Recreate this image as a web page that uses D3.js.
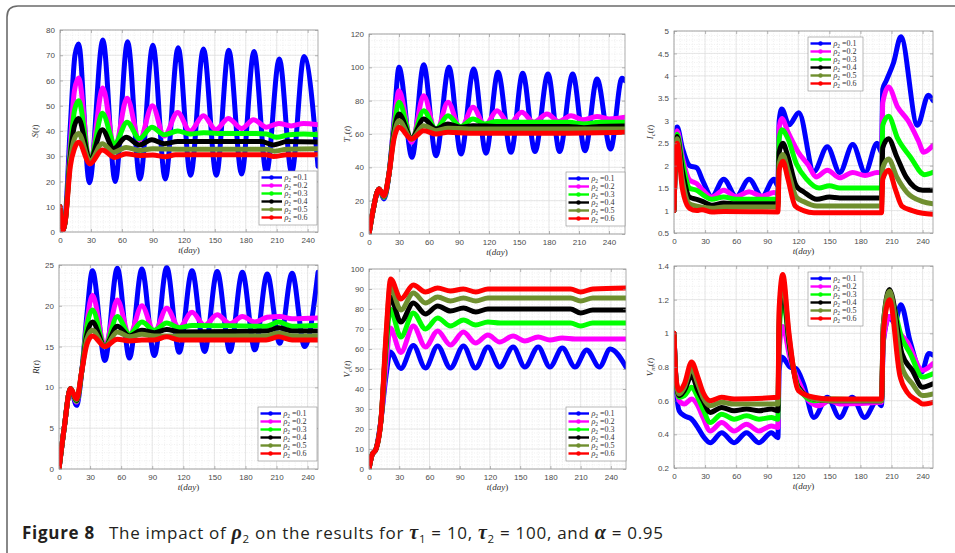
<!DOCTYPE html>
<html>
<head>
<meta charset="utf-8">
<script src="https://cdn.jsdelivr.net/npm/d3@7"></script>
<style>
  body { margin: 0; background: #fff; }
  svg { display: block; }
</style>
</head>
<body>
<script>
const rhoLabels = ['0.1', '0.2', '0.3', '0.4', '0.5', '0.6']
const colors = ['#0000ff', '#ff00ff', '#00ff00', '#000000', '#6f8f2f', '#ff0000']
const xTicks = [0, 30, 60, 90, 120, 150, 180, 210, 240]

// S(t), one list of [t, value] per rho2
const sData = [
  [[0,10],[2.5,0.5],[5,5],[10,42],[14.5,70],[18,74.5],[28.5,19.5],[41.5,76],[53.5,20],[65.5,75.3],[77.5,21],[90,74],[102,21],[114.5,73],[126.5,22.5],[139,72.5],[151.5,22.5],[163.5,72],[176,23],[188,71.5],[200,23.5],[212.5,68.5],[224.5,23.5],[236.5,69.5],[250,26]],
  [[0,10],[2.5,0.5],[5,4],[10,35],[14,56],[18,61],[29,27],[41.5,57],[53,33],[65,53],[77,36.5],[89.5,50],[101,38],[114,47.3],[126,40],[139,46],[151,40.5],[163,45],[176,41],[187.5,44.5],[200,41.5],[212,43],[224,42],[236,43],[250,42.5]],
  [[0,10],[2.5,0.5],[5,4],[10,32],[14,48],[18,52],[29,28],[41,47],[53,35],[65,43.5],[77,37],[89,41.5],[101,38.5],[114,40],[126,38.8],[139,39.3],[160,39],[190,39],[200,38.8],[210,37.5],[222,38.5],[236,38.8],[250,38.5]],
  [[0,10],[2.5,0.5],[5,4],[10,30],[14,42],[18,45],[29,28.5],[41,40.5],[52,33],[64,37.5],[77,34.5],[89,36.5],[101,35],[114,35.8],[150,35.8],[195,35.8],[207,34.5],[220,35.8],[250,35.6]],
  [[0,10],[2.5,0.5],[5,4],[10,28],[14,37],[18,39],[29,28],[41,35],[52,31.5],[64,33.5],[77,32.3],[90,33],[120,32.8],[200,32.8],[208,32],[220,32.8],[250,33]],
  [[0,10],[2.5,0.5],[5,4],[10,26],[14,33],[18,35.5],[29,27],[41,32.5],[53,29.5],[64,31],[77,30.3],[90,30.5],[102,29.8],[112,30.6],[200,30.6],[207,29.9],[220,30.6],[250,30.6]]
]

// Tc(t)
const tcData = [
  [[0,0],[4,14],[10,27],[15,21],[20,36],[25,68],[30,100],[43,46],[54.7,101.5],[67,47],[80,100],[92,48],[104.7,99],[117,48.5],[129,97],[142,49],[153.7,96.5],[166,49.5],[179,96],[190.6,49.5],[203.7,96],[216,50],[228,93],[241.6,51],[253,93.5],[256,92]],
  [[0,0],[4,14],[10,27],[15,22],[20,36],[25,65],[30,86],[42.6,55],[54.7,83],[67,61],[79,79],[91.5,63],[104,76],[116,65],[128,74],[140.5,66],[152.7,73],[165,67],[178,72],[190,67.5],[202,71],[214,68.5],[228,70.5],[240,69],[256,70]],
  [[0,0],[4,14],[10,27],[15,22],[20,36],[25,63],[30,79],[42.6,57],[54.7,74],[67,63],[79,71],[91.5,64.5],[104,69],[116,66],[128,67.5],[150,67],[200,67],[215,66],[230,67],[256,67]],
  [[0,0],[4,14],[10,27],[15,22.5],[20,36],[25,61],[30,72],[42.6,57.5],[54.7,69],[67,63],[79,66],[91.5,64],[104,65],[130,64.5],[200,64.5],[215,63.8],[230,64.5],[256,64.8]],
  [[0,0],[4,14],[10,27],[15,22.5],[20,36],[25,59],[30,68],[42.6,57],[54.7,65],[67,62],[79,63.5],[100,63],[200,63],[256,63]],
  [[0,0],[4,14],[10,27],[15,23],[20,36],[25,57],[30,64],[42.6,57],[54.7,62],[67,60],[79,61],[100,60.5],[200,60.5],[256,61]]
]

// Ic(t)
const icData = [
  [[0,1],[1,1.9],[2,2.5],[3,2.86],[8,2.4],[15,2.0],[22,1.95],[28,1.65],[36.5,1.31],[48,1.7],[60,1.31],[72.5,1.7],[85,1.31],[96.5,1.7],[100.3,1.55],[101.5,3.0],[104,3.26],[111,2.91],[120.5,3.18],[135,1.87],[148,2.42],[160,1.85],[172.5,2.47],[184.5,1.85],[196,2.5],[200.3,2.3],[201.5,3.7],[205,3.9],[212,4.3],[219,4.87],[235,2.9],[245.5,3.57],[250,3.45]],
  [[0,1],[1,1.9],[2,2.45],[3,2.78],[8,2.2],[15,1.68],[22,1.6],[28,1.45],[36.5,1.3],[48,1.45],[60,1.31],[72.5,1.42],[85,1.32],[96.5,1.4],[100.3,1.38],[101.5,2.85],[104,3.05],[110,2.75],[120,2.3],[130,2.0],[137,1.75],[148,1.9],[160,1.73],[172.5,1.85],[184.5,1.78],[196,1.85],[200.3,1.84],[201.5,3.4],[207,3.75],[216,3.3],[226,3.0],[236,2.55],[241,2.3],[250,2.45]],
  [[0,1],[1,1.9],[2,2.4],[3,2.7],[8,2.1],[15,1.5],[22,1.45],[28,1.35],[36.5,1.25],[48,1.3],[60,1.25],[100.3,1.25],[101.5,2.6],[104,2.8],[110,2.6],[118,2.05],[128,1.7],[140,1.5],[150,1.55],[160,1.5],[200.3,1.5],[201.5,2.9],[207,3.1],[216,2.6],[228,2.2],[242,1.8],[250,1.85]],
  [[0,1],[1,1.9],[2,2.35],[3,2.65],[8,1.9],[15,1.3],[22,1.25],[28,1.2],[36.5,1.12],[48,1.17],[60,1.15],[100.3,1.15],[101.5,2.3],[105,2.5],[110,2.2],[118,1.55],[125,1.42],[138,1.25],[150,1.3],[160,1.28],[200.3,1.28],[201.5,2.4],[207,2.6],[215,2.2],[224,1.75],[240,1.45],[250,1.45]],
  [[0,1],[1,1.85],[2,2.3],[3,2.6],[8,1.7],[15,1.15],[22,1.1],[36.5,1.05],[48,1.08],[100.3,1.08],[101.5,2.05],[105,2.25],[110,1.9],[118,1.3],[125,1.2],[138,1.1],[200.3,1.1],[201.5,1.95],[207,2.15],[215,1.75],[225,1.4],[240,1.2],[250,1.15]],
  [[0,1],[1,1.85],[2,2.25],[3,2.5],[8,1.5],[15,1.05],[22,1.0],[27,1.02],[36.5,0.97],[48,0.98],[100.3,0.97],[101.5,1.9],[105,2.1],[110,1.7],[117,1.1],[125,1.0],[135,0.95],[200.3,0.95],[201.5,1.7],[207,1.9],[214,1.45],[220,1.1],[230,1.0],[240,0.94],[250,0.92]]
]

// R(t)
const rData = [
  [[0,0],[5,5],[11,9.85],[17,7.8],[22,12],[27,19],[32.3,24.3],[44.3,13.3],[56.3,24.6],[68,13.6],[80,24.5],[92,13.9],[104,24.7],[116,14.3],[128.4,24.3],[140.5,14.4],[152.7,24.2],[165,14.4],[177,24.1],[189,14.6],[201,23.9],[213,15.4],[225,24],[237,15],[250,24.1]],
  [[0,0],[5,5],[11,9.85],[17,8.2],[22,12],[27,18],[32.3,21.3],[44.3,15],[56.3,20.7],[68,16.4],[80,20],[92,16.8],[104,19.7],[116,17.3],[128.4,19.2],[140.5,17.6],[152.7,18.9],[165,17.8],[177,18.7],[189,18],[201,18.6],[213,18.7],[225,18.4],[250,18.5]],
  [[0,0],[5,5],[11,9.85],[17,8.3],[22,12],[27,17.5],[32.3,19.5],[44.3,15],[56.3,18.7],[68,16.5],[80,18],[92,17],[104,17.9],[116,17.3],[128.4,17.6],[200,17.5],[212,18],[225,17.5],[250,17.6]],
  [[0,0],[5,5],[11,9.85],[17,8.4],[22,12],[27,16.5],[32.3,18],[44.3,15],[56.3,17.5],[68,16.3],[80,17],[92,16.7],[104,17.1],[116,16.8],[200,16.9],[212,17.3],[225,16.9],[250,16.9]],
  [[0,0],[5,5],[11,9.85],[17,8.5],[22,12],[27,16],[32.3,17],[44.3,15],[56.3,16.8],[68,16.2],[80,16.5],[92,16.3],[200,16.3],[212,16.7],[225,16.3],[250,16.3]],
  [[0,0],[5,5],[11,9.85],[17,8.6],[22,12],[27,15.3],[32.3,16.3],[44.3,15],[56.3,15.9],[68,15.7],[80,15.8],[92,15.8],[104,16.2],[116,15.8],[200,15.8],[212,16.2],[225,15.8],[250,15.8]]
]

// Vc(t)
const vcData = [
  [[0,0],[3,7],[7,10],[12,25],[17,47],[21,58.5],[31.6,50.3],[44,61.7],[56,50.5],[68.1,61.5],[80.8,50.5],[93.7,61.5],[105.7,50.5],[118,61],[129.6,51],[143,61],[154.6,51],[167.9,61],[179.5,51],[191.8,60.5],[204.4,51],[216,59.5],[228.7,51],[239.3,60],[255,51]],
  [[0,0],[3,7],[7,10],[12,25],[17,52],[21,70.5],[31.6,58.3],[44,71.5],[56,61],[68.1,69],[80.8,62],[93.7,68.5],[105.7,63],[118,67],[129.6,63.5],[143,66.5],[154.6,64],[167.9,66],[179.5,64.5],[191.8,65.5],[204.4,65],[255,65]],
  [[0,0],[3,7],[7,10],[12,25],[17,60],[21,80],[31.6,66],[44,78],[56,70],[68.1,75.5],[80.8,71.5],[93.7,74.5],[105.7,72],[118,73.5],[130,73],[200,73],[210,71.5],[222,73],[255,73]],
  [[0,0],[3,7],[7,10],[12,25],[17,64],[21,86],[31.6,73.5],[44,83],[56,77.5],[68.1,81.5],[80.8,79],[93.7,80.5],[106,78.5],[118,80],[200,80],[210,78],[222,79.5],[255,79.5]],
  [[0,0],[3,7],[7,10],[12,25],[17,66],[21,91],[31.6,79.5],[44,88],[56,83],[68.1,86],[80.8,84],[93.7,85.5],[106,84],[118,85.5],[200,85.5],[210,84],[222,85.5],[255,85.5]],
  [[0,0],[3,7],[7,10],[12,25],[17,68],[21.5,95],[31.6,85],[44,92],[56,88.5],[68.1,90.5],[80.8,89],[93.7,90],[106,88.5],[118,90],[200,90],[210,88.5],[222,90],[255,90.5]]
]

// Vm(t)
const vmData = [
  [[0,1],[2,0.7],[5,0.54],[10,0.51],[17,0.49],[23,0.44],[28,0.39],[35,0.35],[46,0.41],[58,0.35],[70,0.41],[82,0.35],[94,0.41],[100.3,0.38],[101.5,0.78],[104,0.86],[112,0.8],[118,0.79],[125,0.7],[135,0.5],[148,0.62],[160,0.5],[172,0.62],[184,0.5],[196,0.6],[200.3,0.57],[202,0.95],[208,1.1],[213,1.06],[219,1.17],[228,0.95],[239,0.77],[246,0.88],[250,0.87]],
  [[0,1],[2,0.72],[5,0.6],[10,0.58],[17,0.61],[23,0.57],[28,0.5],[35,0.42],[46,0.47],[58,0.42],[70,0.46],[82,0.42],[94,0.45],[100.3,0.44],[101.5,0.9],[105,1.04],[112,0.85],[120,0.72],[130,0.6],[140,0.57],[150,0.6],[160,0.58],[200.3,0.59],[202,0.95],[208,1.1],[218,1.0],[225,0.95],[240,0.78],[250,0.82]],
  [[0,1],[2,0.72],[5,0.62],[10,0.63],[17,0.68],[23,0.62],[28,0.55],[35,0.47],[46,0.52],[58,0.49],[70,0.51],[82,0.49],[94,0.5],[100.3,0.49],[101.5,1.0],[105,1.2],[112,0.9],[120,0.68],[135,0.6],[150,0.61],[200.3,0.6],[202,1.0],[208,1.22],[220,0.97],[228,0.88],[240,0.74],[250,0.76]],
  [[0,1],[2,0.72],[5,0.63],[10,0.66],[17,0.75],[23,0.66],[28,0.6],[35,0.53],[46,0.56],[58,0.54],[70,0.55],[82,0.54],[94,0.55],[100.3,0.54],[101.5,1.05],[105,1.27],[111,0.95],[120,0.68],[135,0.61],[150,0.6],[200.3,0.6],[202,1.05],[208,1.26],[220,0.88],[230,0.78],[240,0.68],[250,0.7]],
  [[0,1],[2,0.72],[5,0.64],[10,0.68],[17,0.79],[23,0.7],[28,0.62],[35,0.57],[46,0.59],[58,0.58],[100.3,0.58],[101.5,1.1],[105,1.31],[111,0.98],[120,0.67],[135,0.61],[150,0.6],[200.3,0.6],[202,1.05],[208,1.25],[220,0.8],[230,0.7],[240,0.63],[250,0.64]],
  [[0,1],[2,0.73],[5,0.66],[10,0.7],[17,0.83],[23,0.74],[28,0.65],[35,0.6],[46,0.62],[58,0.61],[100.3,0.62],[101.5,1.15],[105,1.35],[111,1.0],[120,0.66],[135,0.62],[150,0.61],[200.3,0.61],[202,1.0],[208,1.2],[218,0.75],[225,0.65],[235,0.6],[240,0.58],[250,0.59]]
]

const sTicks = [0, 10, 20, 30, 40, 50, 60, 70, 80]
const tcTicks = [0, 20, 40, 60, 80, 100, 120]
const icTicks = [0.5, 1, 1.5, 2, 2.5, 3, 3.5, 4, 4.5, 5]
const rTicks = [0, 5, 10, 15, 20, 25]
const vcTicks = [0, 10, 20, 30, 40, 50, 60, 70, 80, 90, 100]
const vmTicks = [0.2, 0.4, 0.6, 0.8, 1, 1.2, 1.4]

const panels = [
  { id: 's', data: sData, ticks: sTicks, name: 'S', sub: '', xMax: 250, box: [60, 30, 318, 232], yl: 22, legend: [259, 171], legW: 58 },
  { id: 'tc', data: tcData, ticks: tcTicks, name: 'T', sub: 'c', xMax: 256, box: [369, 34, 625, 234], yl: 19.5, legend: [566, 172], legW: 59 },
  { id: 'ic', data: icData, ticks: icTicks, name: 'I', sub: 'c', xMax: 250, box: [674, 31, 933, 233], yl: 21, legend: [808, 37], legW: 55 },
  { id: 'r', data: rData, ticks: rTicks, name: 'R', sub: '', xMax: 250, box: [59, 265, 318, 469], yl: 20, legend: [258, 407], legW: 59 },
  { id: 'vc', data: vcData, ticks: vcTicks, name: 'V', sub: 'c', xMax: 255, box: [369, 269, 626, 469], yl: 19.5, legend: [566, 407], legW: 60 },
  { id: 'vm', data: vmData, ticks: vmTicks, name: 'V', sub: 'm', xMax: 250, box: [674, 266, 933, 468], yl: 21, legend: [808, 272], legW: 55 }
]

const width = 955
const height = 553

let svg = d3
  .select('body')
  .append('svg')
  .attr('width', width)
  .attr('height', height)

svg.append('rect')
  .attr('width', width)
  .attr('height', height)
  .attr('fill', '#fff')

// frame of the figure box
svg.append('path')
  .attr('d', 'M7,553 L7,17 Q7,6 18,6 L960,6')
  .attr('fill', 'none')
  .attr('stroke', '#6b6b6b')
  .attr('stroke-width', 1.6)

const serif = "'Liberation Serif', 'DejaVu Serif', serif"
const sans = "'Liberation Sans', Arial, sans-serif"

panels.forEach(function (p) {
  const [x0, y0, x1, y1] = p.box
  const yMin = p.ticks[0]
  const yMax = p.ticks[p.ticks.length - 1]

  const x = d3.scaleLinear().domain([0, p.xMax]).range([x0, x1])
  const y = d3.scaleLinear().domain([yMin, yMax]).range([y1, y0])

  const g = svg.append('g')

  g.append('rect')
    .attr('x', x0).attr('y', y0)
    .attr('width', x1 - x0).attr('height', y1 - y0)
    .attr('fill', '#fff')

  // minor grid
  const xStep = xTicks[1] - xTicks[0]
  const yStep = p.ticks[1] - p.ticks[0]
  const xMinor = d3.range(0, p.xMax + 0.001, xStep / 5)
  const yMinor = d3.range(0, Math.round((yMax - yMin) / (yStep / 5)) + 1).map(i => yMin + i * yStep / 5)

  g.selectAll('.xminor')
    .data(xMinor)
    .enter()
    .append('line')
    .attr('x1', d => x(d)).attr('x2', d => x(d))
    .attr('y1', y0).attr('y2', y1)
    .attr('stroke', '#e6e6e6')
    .attr('stroke-width', 0.6)
    .attr('stroke-dasharray', '1,1.5')

  g.selectAll('.yminor')
    .data(yMinor)
    .enter()
    .append('line')
    .attr('x1', x0).attr('x2', x1)
    .attr('y1', d => y(d)).attr('y2', d => y(d))
    .attr('stroke', '#e6e6e6')
    .attr('stroke-width', 0.6)
    .attr('stroke-dasharray', '1,1.5')

  // major grid
  g.selectAll('.xmajor')
    .data(xTicks)
    .enter()
    .append('line')
    .attr('x1', d => x(d)).attr('x2', d => x(d))
    .attr('y1', y0).attr('y2', y1)
    .attr('stroke', '#dedede')
    .attr('stroke-width', 0.7)

  g.selectAll('.ymajor')
    .data(p.ticks)
    .enter()
    .append('line')
    .attr('x1', x0).attr('x2', x1)
    .attr('y1', d => y(d)).attr('y2', d => y(d))
    .attr('stroke', '#dedede')
    .attr('stroke-width', 0.7)

  g.append('clipPath')
    .attr('id', 'clip-' + p.id)
    .append('rect')
    .attr('x', x0).attr('y', y0)
    .attr('width', x1 - x0).attr('height', y1 - y0)

  const line = d3.line()
    .x(d => x(d[0]))
    .y(d => y(d[1]))
    .curve(d3.curveMonotoneX)

  g.append('g')
    .attr('clip-path', 'url(#clip-' + p.id + ')')
    .selectAll('path')
    .data(p.data)
    .enter()
    .append('path')
    .attr('d', line)
    .attr('fill', 'none')
    .attr('stroke', (d, i) => colors[i])
    .attr('stroke-width', 5)
    .attr('stroke-linejoin', 'round')
    .attr('stroke-linecap', 'round')

  // axes, ticks pointing inward like matlab
  const fmt = d => String(d)
  g.append('g')
    .attr('transform', `translate(0,${y1})`)
    .call(d3.axisBottom(x).tickValues(xTicks).tickFormat(fmt).tickSize(-3).tickPadding(5))
  g.append('g')
    .attr('transform', `translate(${x0},0)`)
    .call(d3.axisLeft(y).tickValues(p.ticks).tickFormat(fmt).tickSize(-3).tickPadding(5))
  g.append('g')
    .attr('transform', `translate(0,${y0})`)
    .call(d3.axisTop(x).tickValues(xTicks).tickFormat('').tickSize(-3))
  g.append('g')
    .attr('transform', `translate(${x1},0)`)
    .call(d3.axisRight(y).tickValues(p.ticks).tickFormat('').tickSize(-3))

  g.selectAll('.domain').remove()
  g.selectAll('.tick line').attr('stroke', '#8a8a8a').attr('stroke-width', 0.6)
  g.selectAll('.tick text')
    .attr('font-family', sans)
    .attr('font-size', 8)
    .attr('fill', '#4a4a4a')

  g.append('rect')
    .attr('x', x0).attr('y', y0)
    .attr('width', x1 - x0).attr('height', y1 - y0)
    .attr('fill', 'none')
    .attr('stroke', '#9a9a9a')
    .attr('stroke-width', 0.8)

  // x label
  const xl = g.append('text')
    .attr('x', (x0 + x1) / 2)
    .attr('y', y1 + 21)
    .attr('text-anchor', 'middle')
    .attr('font-family', serif)
    .attr('font-size', 9)
    .attr('fill', '#333')
  xl.append('tspan').attr('font-style', 'italic').text('t')
  xl.append('tspan').text('(')
  xl.append('tspan').attr('font-style', 'italic').text('day')
  xl.append('tspan').text(')')

  // y label
  const yc = (y0 + y1) / 2
  const yl = g.append('text')
    .attr('transform', `translate(${x0 - p.yl},${yc}) rotate(-90)`)
    .attr('text-anchor', 'middle')
    .attr('font-family', serif)
    .attr('font-size', 9)
    .attr('fill', '#333')
  yl.append('tspan').attr('font-style', 'italic').text(p.name)
  if (p.sub) {
    yl.append('tspan').attr('font-style', 'italic').attr('font-size', 6.5).attr('dy', 2).text(p.sub)
    yl.append('tspan').attr('dy', -2).text('(')
  } else {
    yl.append('tspan').text('(')
  }
  yl.append('tspan').attr('font-style', 'italic').text('t')
  yl.append('tspan').text(')')

  // legend
  const [lx, ly] = p.legend
  const rowH = 8
  const leg = g.append('g')
  leg.append('rect')
    .attr('x', lx).attr('y', ly)
    .attr('width', p.legW).attr('height', 54)
    .attr('fill', '#fff')
    .attr('stroke', '#8a8a8a')
    .attr('stroke-width', 0.6)

  const rows = leg.selectAll('.item')
    .data(rhoLabels)
    .enter()
    .append('g')
    .attr('transform', (d, i) => `translate(${lx},${ly + 6.5 + i * rowH})`)

  rows.append('line')
    .attr('x1', 2.5).attr('x2', 23)
    .attr('stroke', (d, i) => colors[i])
    .attr('stroke-width', 2.4)
  rows.append('circle')
    .attr('cx', 12.5).attr('r', 2.2)
    .attr('fill', (d, i) => colors[i])

  const lt = rows.append('text')
    .attr('x', 25.5)
    .attr('y', 2.7)
    .attr('font-family', serif)
    .attr('font-size', 8)
    .attr('fill', '#333')
  lt.append('tspan').attr('font-style', 'italic').text('ρ')
  lt.append('tspan').attr('font-size', 5.5).attr('dy', 1.5).text('2')
  lt.append('tspan').attr('dy', -1.5).attr('dx', 2).text(d => '=' + d)
})

// caption
const capParts = [
  { t: 'Figure 8', bold: true },
  { t: 'The impact of ', dx: 14 },
  { t: 'ρ', greek: true },
  { t: '2', sub: true },
  { t: ' on the results for ' },
  { t: 'τ', greek: true },
  { t: '1', sub: true },
  { t: ' = 10, ' },
  { t: 'τ', greek: true },
  { t: '2', sub: true },
  { t: ' = 100, and ' },
  { t: 'α', greek: true },
  { t: ' = 0.95' }
]

const cap = svg.append('text')
  .attr('x', 22)
  .attr('y', 539)
  .attr('font-family', "'Open Sans', sans-serif")
  .attr('font-size', 17)
  .attr('fill', '#231f20')
  .style('white-space', 'pre')

let lowered = false
capParts.forEach(function (c) {
  const ts = cap.append('tspan').text(c.t)
  if (c.bold) ts.attr('font-weight', 'bold')
  if (c.dx) ts.attr('dx', c.dx)
  if (c.greek) ts.attr('font-family', serif).attr('font-style', 'italic').attr('font-weight', 'bold').attr('font-size', 20)
  if (c.sub) {
    ts.attr('font-size', 11.5).attr('dy', 3.5)
    lowered = true
  } else if (lowered) {
    ts.attr('dy', -3.5)
    lowered = false
  }
})

// fit the caption to the width it has in the figure
const capWidth = 641
const capNow = cap.node().getComputedTextLength()
if (capNow > capWidth) {
  cap.attr('font-size', 17 * capWidth / capNow)
} else if (capNow < capWidth) {
  cap.attr('textLength', capWidth).attr('lengthAdjust', 'spacing')
}
</script>
</body>
</html>
